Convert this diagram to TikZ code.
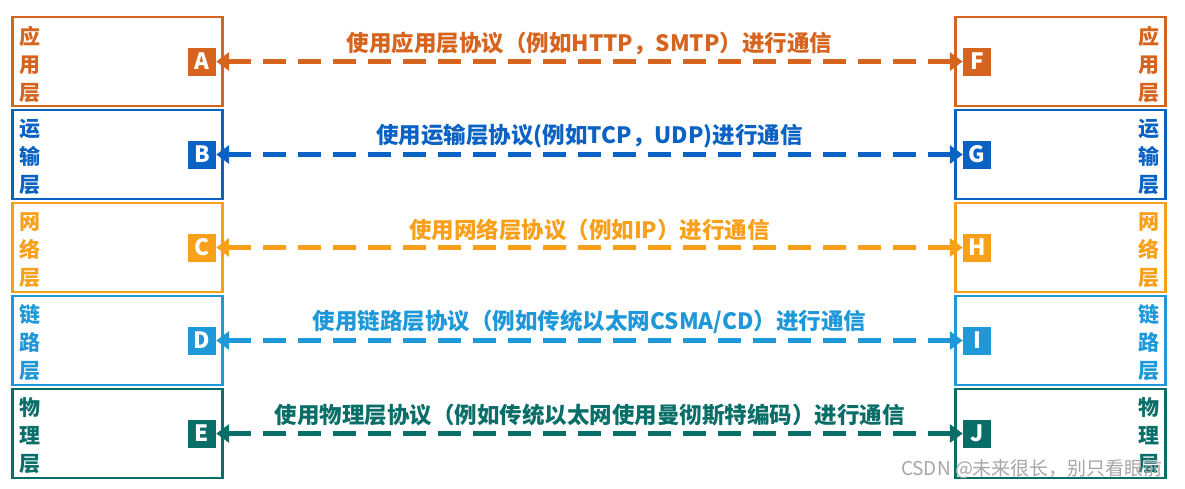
\documentclass[tikz,border=0pt]{standalone}
\usepackage{fontspec}
\setmainfont{Noto Sans CJK SC}
\usetikzlibrary{arrows.meta}
\definecolor{appc}{RGB}{214,100,30}
\definecolor{tranc}{RGB}{10,98,196}
\definecolor{netc}{RGB}{249,160,27}
\definecolor{linkc}{RGB}{30,152,216}
\definecolor{phyc}{RGB}{10,110,104}
\tikzset{
  layerbox/.style={draw=#1,line width=2.5pt,minimum width=210pt,minimum height=89pt,inner sep=0pt},
  tag/.style={fill=#1,text=white,minimum size=28pt,inner sep=0pt},
  side/.style={text=#1,align=center,inner sep=0pt,font=\bfseries\fontsize{21}{28}\selectfont},
  peer/.style={draw=#1,line width=5pt,dash pattern=on 23pt off 12pt,
    {Triangle[length=13pt,width=18pt]}-{Triangle[length=13pt,width=18pt]}},
  msg/.style={text=#1,midway,above=1pt}
}
\begin{document}
\begin{tikzpicture}[x=1pt,y=-1pt,every node/.style={font=\bfseries\fontsize{22.5}{26}\selectfont}]
    \useasboundingbox (0,0) rectangle (1185,488);
    \node[layerbox=appc]  (app)  at (117.5,61.5)  {};
    \node[layerbox=tranc] (tran) at (117.5,154.5) {};
    \node[layerbox=netc]  (net)  at (117.5,247.5) {};
    \node[layerbox=linkc] (lnk)  at (117.5,340.5) {};
    \node[layerbox=phyc]  (phy)  at (117.5,433.5) {};
    \node[layerbox=appc]  (app') at (1060.5,61.5)  {};
    \node[layerbox=tranc] (tran') at (1060.5,154.5) {};
    \node[layerbox=netc]  (net') at (1060.5,247.5) {};
    \node[layerbox=linkc] (lnk') at (1060.5,340.5) {};
    \node[layerbox=phyc]  (phy') at (1060.5,433.5) {};
    \node[side=appc]  at (29.5,64)  {应\\用\\层};
    \node[side=tranc] at (29.5,157) {运\\输\\层};
    \node[side=netc]  at (29.5,250) {网\\络\\层};
    \node[side=linkc] at (29.5,343) {链\\路\\层};
    \node[side=phyc]  at (29.5,436) {物\\理\\层};
    \node[side=appc]  at (1149,64)  {应\\用\\层};
    \node[side=tranc] at (1149,157) {运\\输\\层};
    \node[side=netc]  at (1149,250) {网\\络\\层};
    \node[side=linkc] at (1149,343) {链\\路\\层};
    \node[side=phyc]  at (1149,436) {物\\理\\层};
    \node[tag=appc]  (A) at (202,61.5)  {A};
    \node[tag=tranc] (B) at (202,154.5) {B};
    \node[tag=netc]  (C) at (202,247.5) {C};
    \node[tag=linkc] (D) at (202,340.5) {D};
    \node[tag=phyc]  (E) at (202,433.5) {E};
    \node[tag=appc]  (F) at (977,61.5)  {F};
    \node[tag=tranc] (G) at (977,154.5) {G};
    \node[tag=netc]  (H) at (977,247.5) {H};
    \node[tag=linkc] (I) at (977,340.5) {I};
    \node[tag=phyc]  (J) at (977,433.5) {J};
    \draw[peer=appc]  (A) -- (F) node[msg=appc]  {使用应用层协议（例如HTTP，SMTP）进行通信};
    \draw[peer=tranc] (B) -- (G) node[msg=tranc] {使用运输层协议(例如TCP，UDP)进行通信};
    \draw[peer=netc]  (C) -- (H) node[msg=netc]  {使用网络层协议（例如IP）进行通信};
    \draw[peer=linkc] (D) -- (I) node[msg=linkc] {使用链路层协议（例如传统以太网CSMA/CD）进行通信};
    \draw[peer=phyc]  (E) -- (J) node[msg=phyc]  {使用物理层协议（例如传统以太网使用曼彻斯特编码）进行通信};
    \node[text=black!35,font=\fontsize{19}{20}\selectfont] (mark) at (1032,469) {CSDN @未来很长，别只看眼前};
\end{tikzpicture}
\end{document}
